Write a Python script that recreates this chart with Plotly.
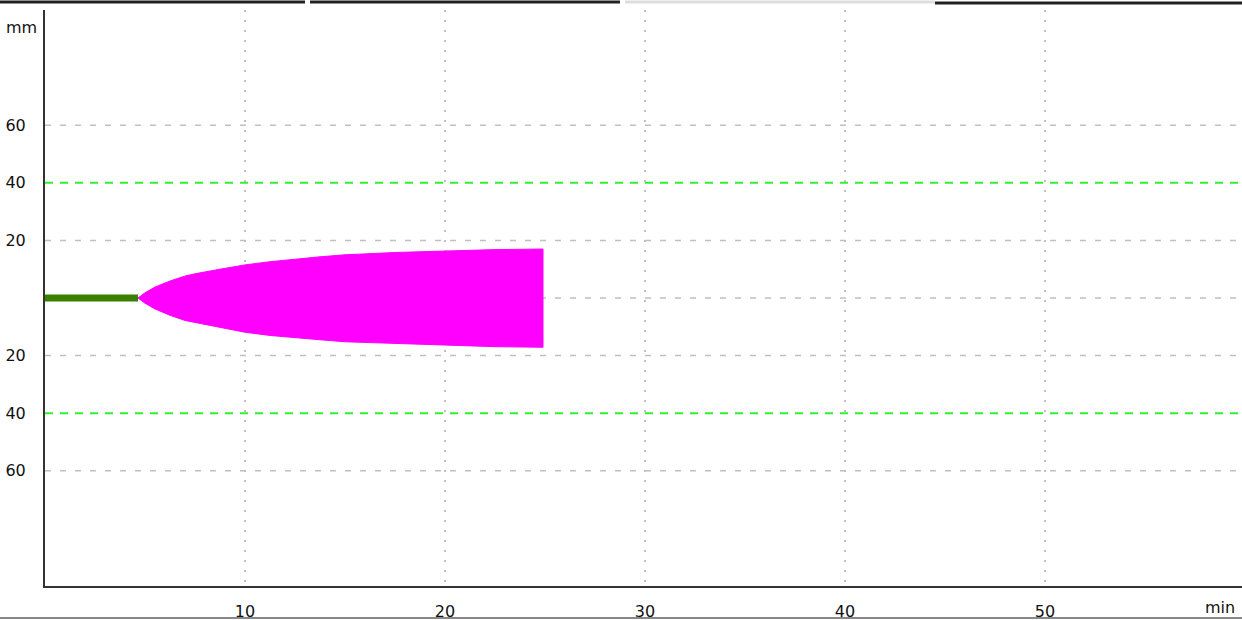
import plotly.graph_objects as go

# ---- data ----
green_t = [0.0, 4.65]
green_amp = [0.0, 0.0]

env_t = [4.65, 5.0, 5.5, 6.25, 7.0, 7.5, 8.75, 10.0, 11.25, 12.5, 13.75, 15.0, 16.5, 17.5, 20.0, 22.5, 24.9]
env_upper = [0.0, 1.8, 3.8, 5.9, 7.6, 8.4, 10.0, 11.5, 12.6, 13.5, 14.3, 15.0, 15.5, 15.8, 16.3, 16.8, 17.0]
env_lower = [0.0, -1.8, -3.8, -6.0, -7.8, -8.6, -10.3, -11.9, -13.0, -13.8, -14.5, -15.2, -15.6, -15.9, -16.4, -16.9, -17.1]

x_ticks = [10, 20, 30, 40, 50]
x_tick_text = ["10", "20", "30", "40", "50"]
y_ticks = [-60, -20, 0, 20, 60]
y_tick_text = ["60", "20", "", "20", "60"]
green_lines = [40, -40]
green_labels = ["40", "40"]

W, H = 1242, 620
ML, MR, MT, MB = 45, 0, 10, 34
PX_PER_MIN = 20.0
x_max = (W - ML - MR) / PX_PER_MIN

fig = go.Figure()

# magenta envelope
fig.add_trace(go.Scatter(
    x=env_t + env_t[::-1],
    y=env_upper + env_lower[::-1],
    fill="toself", fillcolor="#ff00ff",
    line=dict(color="#ff00ff", width=1),
    mode="lines", hoverinfo="skip", showlegend=False,
))
# green baseline
fig.add_trace(go.Scatter(
    x=green_t, y=green_amp, mode="lines",
    line=dict(color="#3a8000", width=7),
    showlegend=False, hoverinfo="skip",
))

# green dashed reference lines at +-40
for gy in green_lines:
    fig.add_shape(type="line", xref="paper", yref="y", x0=0, x1=1, y0=gy, y1=gy,
                  line=dict(color="#33ee33", width=2, dash="8px,7px"), layer="below")

font = dict(family="DejaVu Sans", size=16, color="#111111")

tickvals_y = y_ticks + green_lines
ticktext_y = y_tick_text + green_labels

fig.update_layout(
    width=W, height=H,
    margin=dict(l=ML, r=MR, t=MT, b=MB, pad=0),
    paper_bgcolor="white", plot_bgcolor="white",
    font=font,
    xaxis=dict(
        range=[0, x_max], tickvals=x_ticks, ticktext=x_tick_text,
        showgrid=True, gridcolor="#c0c0c0", gridwidth=1.5, griddash="2px,8px",
        zeroline=False, showline=True, linecolor="#333333", linewidth=2,
        ticks="", ticklabelstandoff=10, tickfont=font, fixedrange=True,
    ),
    yaxis=dict(
        range=[-100, 100], tickvals=tickvals_y, ticktext=ticktext_y,
        showgrid=False,
        zeroline=False, showline=True, linecolor="#333333", linewidth=2,
        ticks="", ticklabelstandoff=14, tickfont=font, fixedrange=True,
    ),
)

# gray dashed horizontal grid lines (not at +-40)
for gy in y_ticks:
    fig.add_shape(type="line", xref="paper", yref="y", x0=0, x1=1, y0=gy, y1=gy,
                  line=dict(color="#c0c0c0", width=1.5, dash="6px,9px"), layer="below")

# unit labels
fig.add_annotation(x=0, xref="paper", xshift=-24, xanchor="center",
                   y=94, yref="y", yanchor="middle", text="mm",
                   showarrow=False, font=font)
fig.add_annotation(x=1, xref="paper", xshift=-22, xanchor="center",
                   y=0, yref="paper", yanchor="middle", yshift=-21,
                   text="min", showarrow=False, font=font)

# window frame decorations
ph = H - MT - MB
def py(p):
    return 1 - (p - MT) / ph
pw = W - ML - MR
def px(p):
    return (p - ML) / pw
for (x0, x1, y0, c, w) in [(0, 305, 2, "#222222", 3), (310, 620, 2, "#222222", 3),
                            (625, 935, 2, "#dddddd", 3), (935, W, 3, "#222222", 3),
                            (0, W, 618, "#888888", 2)]:
    fig.add_shape(type="line", xref="paper", yref="paper", x0=px(x0), x1=px(x1),
                  y0=py(y0), y1=py(y0), line=dict(color=c, width=w))

fig.write_html("out.html")
